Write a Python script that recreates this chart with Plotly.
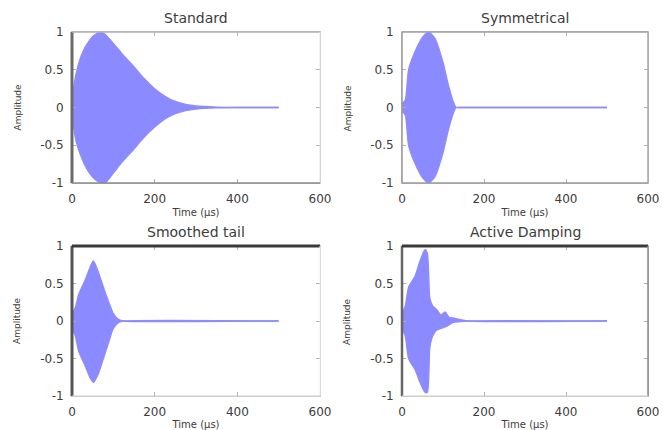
import plotly.graph_objects as go

# ---- data (envelope of each burst) ----
t_standard = [0, 5, 10, 20, 30, 40, 50, 60, 68, 80, 100, 120, 150, 175, 200, 225, 250, 275, 300, 350, 400, 500]
up_standard = [0.1, 0.3, 0.45, 0.65, 0.78, 0.87, 0.94, 0.98, 1.0, 0.97, 0.85, 0.72, 0.54, 0.38, 0.25, 0.15, 0.08, 0.04, 0.02, 0.005, 0.0, 0.0]
lo_standard = [-0.1, -0.3, -0.45, -0.62, -0.75, -0.85, -0.92, -0.97, -0.99, -1.0, -0.87, -0.73, -0.55, -0.39, -0.26, -0.15, -0.08, -0.04, -0.02, -0.005, 0.0, 0.0]

t_sym = [0, 8, 16, 30, 50, 65, 80, 100, 113, 125, 132, 140, 500]
up_sym = [0.05, 0.1, 0.5, 0.72, 0.93, 1.0, 0.92, 0.6, 0.3, 0.08, 0.0, 0.0, 0.0]
lo_sym = [-0.05, -0.1, -0.5, -0.72, -0.93, -1.0, -0.92, -0.6, -0.3, -0.08, 0.0, 0.0, 0.0]

t_smooth = [0, 8, 16, 32, 44, 52, 64, 76, 89, 100, 113, 125, 500]
up_smooth = [0.1, 0.18, 0.35, 0.55, 0.72, 0.8, 0.65, 0.45, 0.25, 0.1, 0.02, 0.0, 0.0]
lo_smooth = [-0.1, -0.2, -0.4, -0.6, -0.76, -0.82, -0.7, -0.5, -0.28, -0.1, -0.02, 0.0, 0.0]

t_active = [0, 8, 16, 32, 44, 56, 62, 68, 75, 85, 95, 105, 115, 125, 140, 160, 500]
up_active = [0.1, 0.2, 0.45, 0.6, 0.8, 0.95, 0.9, 0.3, 0.2, 0.15, 0.08, 0.12, 0.05, 0.04, 0.02, 0.0, 0.0]
lo_active = [-0.1, -0.2, -0.5, -0.65, -0.82, -0.95, -0.95, -0.35, -0.2, -0.12, -0.1, -0.08, -0.05, -0.02, -0.01, 0.0, 0.0]

titles = ["Standard", "Symmetrical", "Smoothed tail", "Active Damping"]
x_ticks = [0, 200, 400, 600]
y_ticks = [-1, -0.5, 0, 0.5, 1]
y_tick_text = ["-1", "-0.5", "0", "0.5", "1"]
x_title = "Time (\u00b5s)"
y_title = "Amplitude"

series = [(t_standard, up_standard, lo_standard),
          (t_sym, up_sym, lo_sym),
          (t_smooth, up_smooth, lo_smooth),
          (t_active, up_active, lo_active)]

# ---- layout geometry ----
W, H = 663, 430
xdoms = [[72 / W, 320 / W], [402 / W, 648 / W]]
ydoms = [[1 - 183 / H, 1 - 32 / H], [1 - 396 / H, 1 - 246 / H]]

fill_col = "rgba(100,100,255,0.75)"
line_col = "rgb(140,140,255)"

fig = go.Figure()
FAM = "DejaVu Sans, Verdana, sans-serif"
TXT = "#3c3c3c"

for i, (t, up, lo) in enumerate(series):
    n = i + 1
    xa = "x" if n == 1 else f"x{n}"
    ya = "y" if n == 1 else f"y{n}"
    fig.add_trace(go.Scatter(x=t, y=up, xaxis=xa, yaxis=ya, mode="lines",
                             line=dict(color=line_col, width=1.3, shape="spline", smoothing=0.6),
                             showlegend=False, hoverinfo="skip"))
    fig.add_trace(go.Scatter(x=t, y=lo, xaxis=xa, yaxis=ya, mode="lines",
                             line=dict(color=line_col, width=1.3, shape="spline", smoothing=0.6),
                             fill="tonexty", fillcolor=fill_col,
                             showlegend=False, hoverinfo="skip"))

axis_common = dict(showgrid=False, zeroline=False, showline=True, linecolor="#c8c8c8",
                   linewidth=1, mirror="ticks", ticks="inside", automargin=False,
                   ticklen=4, tickcolor="#b0b0b0", ticklabelstandoff=5,
                   tickfont=dict(size=12, family=FAM, color=TXT))

layout = dict(width=W, height=H, margin=dict(l=0, r=0, t=0, b=0),
              paper_bgcolor="white", plot_bgcolor="white", showlegend=False)

shapes = []
annotations = []
# border styles per panel: left, top, right, bottom  (color, width)
borders = [
    [("#6a6a6a", 3), ("#b0b0b0", 1.5), ("#e2e2e2", 1), ("#8a8a8a", 1.5)],
    [("#9a9a9a", 1.5), ("#a0a0a0", 1.5), ("#a8a8a8", 1.5), ("#9a9a9a", 1.5)],
    [("#555555", 3), ("#3a3a3a", 3), ("#ececec", 1), ("#cfcfcf", 1)],
    [("#666666", 2.5), ("#3a3a3a", 3), ("#8a8a8a", 1.5), ("#cfcfcf", 1)],
]

for i in range(4):
    n = i + 1
    col = i % 2
    row = i // 2
    xk = "xaxis" if n == 1 else f"xaxis{n}"
    yk = "yaxis" if n == 1 else f"yaxis{n}"
    xr = "x" if n == 1 else f"x{n}"
    yr = "y" if n == 1 else f"y{n}"
    layout[xk] = dict(domain=xdoms[col], anchor=yr, range=[0, 600], tickvals=x_ticks,
                      title=dict(text=x_title, font=dict(size=10, family=FAM, color=TXT), standoff=3),
                      **axis_common)
    layout[yk] = dict(domain=ydoms[row], anchor=xr, range=[-1, 1], tickvals=y_ticks,
                      ticktext=y_tick_text, **axis_common)
    b = borders[i]
    xd = f"{xr} domain"
    yd = f"{yr} domain"
    segs = [((0, 0), (0, 1)), ((0, 1), (1, 1)), ((1, 1), (1, 0)), ((0, 0), (1, 0))]
    for (p0, p1), (c, w) in zip(segs, b):
        shapes.append(dict(type="line", xref=xd, yref=yd, x0=p0[0], y0=p0[1],
                           x1=p1[0], y1=p1[1], line=dict(color=c, width=w)))
    annotations.append(dict(text=titles[i], xref=xd, yref=yd, x=0.5, y=1,
                            xanchor="center", yanchor="bottom", yshift=4, showarrow=False,
                            font=dict(size=14, family=FAM, color=TXT)))
    annotations.append(dict(text=y_title, xref=xd, yref=yd, x=0, y=0.5,
                            xanchor="center", yanchor="middle", xshift=-55, textangle=-90,
                            showarrow=False, font=dict(size=9, family=FAM, color=TXT)))

layout["shapes"] = shapes
layout["annotations"] = annotations
fig.update_layout(**layout)
fig.write_html("out.html", config={"displayModeBar": False},
               post_script="document.body.style.margin='0';document.body.style.overflow='hidden';")
